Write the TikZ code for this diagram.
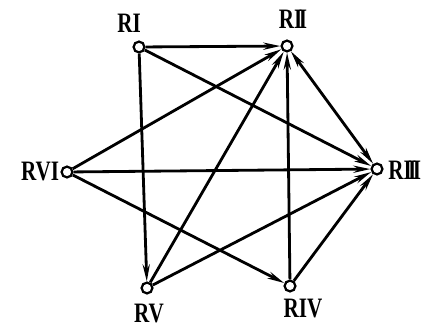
\documentclass[tikz,border=0pt]{standalone}
\usepackage{fontspec}
\setmainfont[FakeStretch=0.75]{Liberation Serif}
\usetikzlibrary{arrows.meta,positioning}
\newcommand{\rii}{I\kern-2.5pt I}
\newcommand{\riii}{I\kern-2.5pt I\kern-2.5pt I}

\begin{document}
\begin{tikzpicture}[x=0.025cm,y=-0.025cm,>={Stealth[length=12pt,width=5pt]},
  rnode/.style={draw,circle,line width=1.6pt,inner sep=0pt,minimum size=0.27cm,fill=white},
  rlabel/.style={font=\fontsize{20}{22}\selectfont\bfseries,inner sep=0pt},
  edge/.style={line width=2pt,->}]
\useasboundingbox (0,0) rectangle (421,329);
\node[rnode] (r1) at (139,47) {};
\node[rnode] (r2) at (287,46) {};
\node[rnode] (r3) at (377,169) {};
\node[rnode] (r4) at (290,286) {};
\node[rnode] (r5) at (147,288) {};
\node[rnode] (r6) at (67,172) {};
\node[rlabel] (l1) at (129,23) {RI};
\node[rlabel] (l2) at (293,19) {R\rii};
\node[rlabel,anchor=west] (l3) at (388,170) {R\riii};
\node[rlabel] (l4) at (303,309) {RIV};
\node[rlabel] (l5) at (149,314) {RV};
\node[rlabel] (l6) at (40,172) {RVI};
\draw[edge] (r1)--(r2);
\draw[edge] (r1)--(r3);
\draw[edge] (r1)--(r5);
\draw[edge] (r6)--(r2);
\draw[edge] (r6)--(r3);
\draw[edge] (r6)--(r4);
\draw[edge] (r5)--(r2);
\draw[edge] (r5)--(r3);
\draw[edge] (r4)--(r2);
\draw[edge] (r4)--(r3);
\draw[edge,<->] (r2)--(r3);
\end{tikzpicture}
\end{document}
